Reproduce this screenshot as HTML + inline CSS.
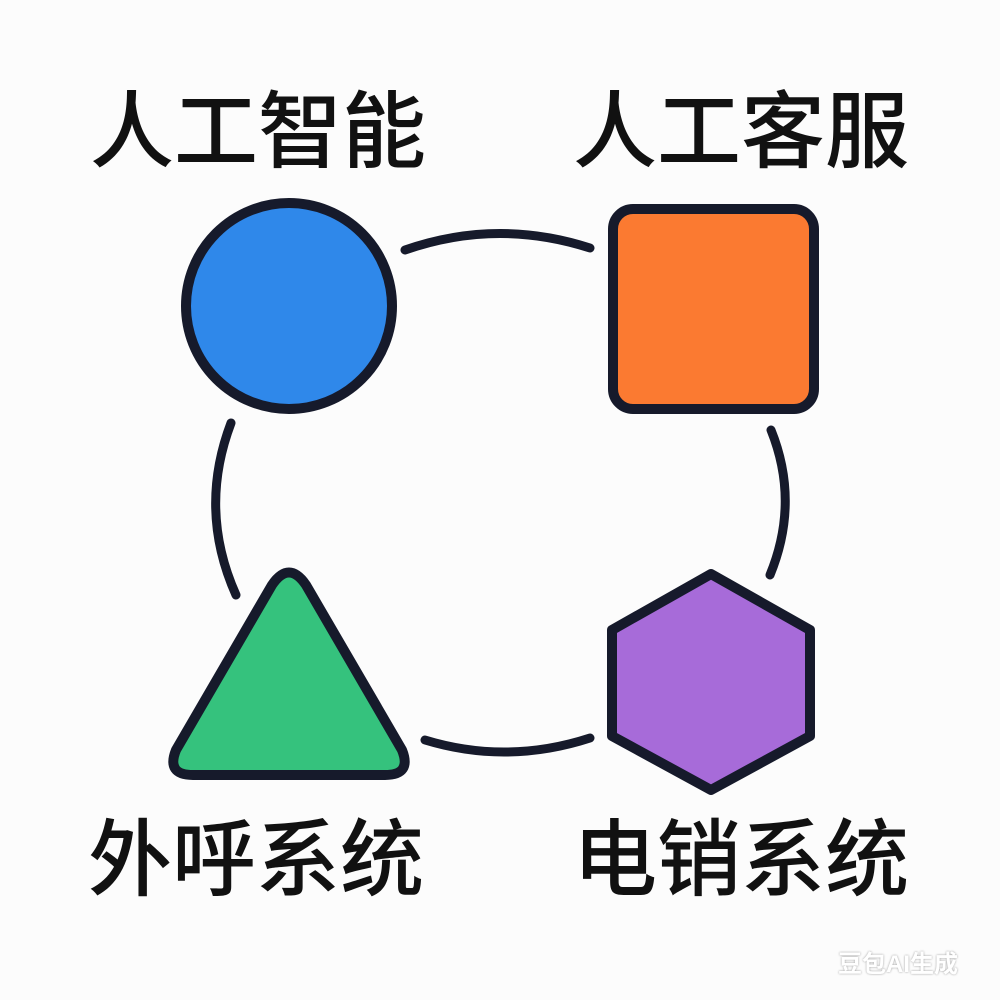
<!DOCTYPE html>
<html><head><meta charset="utf-8"><style>
html,body{margin:0;padding:0;background:#fcfcfc;}
.wrap{position:relative;width:1000px;height:1000px;overflow:hidden;}
.t{position:absolute;font-family:"Liberation Sans","Noto Sans CJK SC",sans-serif;font-size:84px;font-weight:500;color:#111;line-height:1;letter-spacing:0px;white-space:nowrap;}
</style></head><body><div class="wrap">
<svg width="1000" height="1000" style="position:absolute;left:0;top:0">
<g fill="none" stroke="#161a2b" stroke-width="9" stroke-linecap="round">
<path d="M405 250 Q497 218 590 248"/>
<path d="M231 423 Q198 510 236 595"/>
<path d="M771 430 Q800 502 770 575"/>
<path d="M425 740 Q507 765 590 738"/>
</g>
<circle cx="289" cy="306" r="103" fill="#2f88ea" stroke="#161a2b" stroke-width="10"/>
<rect x="613" y="209" width="201" height="200" rx="20" fill="#fb7a31" stroke="#161a2b" stroke-width="10"/>
<path d="M272 585 Q289 560 306 585 L402 750 Q412 775 385 775 L193 775 Q166 775 176 750 Z" fill="#35c27d" stroke="#161a2b" stroke-width="10" stroke-linejoin="round"/>
<path d="M711 574 L810 630 L810 736 L711 790 L612 736 L612 630 Z" fill="#a76bd9" stroke="#161a2b" stroke-width="10" stroke-linejoin="round"/>
</svg>
<div class="t" style="left:90px;top:90px">人工智能</div>
<div class="t" style="left:573px;top:90px">人工客服</div>
<div class="t" style="left:88px;top:818px">外呼系统</div>
<div class="t" style="left:573px;top:818px">电销系统</div>
<div style="position:absolute;left:838px;top:944px;font-family:'Liberation Sans','Noto Sans CJK SC',sans-serif;font-size:24px;font-weight:bold;color:#fff;text-shadow:0 0 2px #999;">豆包AI生成</div>
</div></body></html>
